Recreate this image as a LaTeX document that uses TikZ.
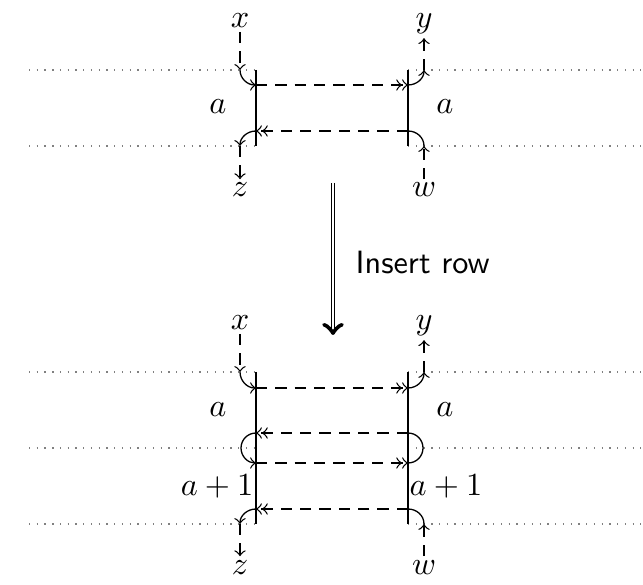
\documentclass[tikz,border=0pt]{standalone}
\begin{document}
\begin{tikzpicture}[x=0.31pt,y=0.31pt,
  lbl/.style={inner sep=1pt,anchor=base},
  wire/.style={dash pattern=on 3.5pt off 2.5pt},
  row/.style={dotted,gray}]
\useasboundingbox (0,0) rectangle (643,584);
% before: one row of height a
\draw[row] (29,514) -- (256,514) (408,514) -- (641,514);
\draw[row] (29,438) -- (256,438) (408,438) -- (641,438);
\draw (256,514) -- (256,438);
\draw (408,514) -- (408,438);
\node[lbl] (x1) at (240,556) {$x$};
\node[lbl] (y1) at (424,556) {$y$};
\node[lbl] (z1) at (240,387) {$z$};
\node[lbl] (w1) at (424,387) {$w$};
\node (a1l) at (218,477) {$a$};
\node (a1r) at (445,477) {$a$};
\coordinate (p1) at (240,514);
\coordinate (q1) at (256,499);
\coordinate (r1) at (408,499);
\coordinate (s1) at (424,514);
\coordinate (t1) at (408,453);
\coordinate (u1) at (256,453);
\coordinate (v1) at (240,438);
\coordinate (o1) at (424,438);
\draw[wire,->] (x1) -- (p1);
\draw[->] (p1) to[out=-90,in=180] (q1);
\draw[wire,->>] (q1) -- (r1);
\draw[->] (r1) to[out=0,in=-90] (s1);
\draw[wire,->] (s1) -- (y1);
\draw[wire,->] (w1) -- (o1);
\draw (o1) to[out=90,in=0] (t1);
\draw[wire,->>] (t1) -- (u1);
\draw[->] (u1) to[out=180,in=90] (v1);
\draw[wire,->] (v1) -- (z1);
% the step
\coordinate (go) at (333,401);
\coordinate (stop) at (333,249);
\draw[double,->] (go) -- (stop);
\node[anchor=west,inner sep=0pt] (ins) at (355,322) {\sffamily Insert row};
% after: rows a and a+1
\draw[row] (29,212) -- (256,212) (408,212) -- (641,212);
\draw[row] (29,136) -- (256,136) (408,136) -- (641,136);
\draw[row] (29,60) -- (256,60) (408,60) -- (641,60);
\draw (256,212) -- (256,60);
\draw (408,212) -- (408,60);
\node[lbl] (x2) at (240,254) {$x$};
\node[lbl] (y2) at (424,254) {$y$};
\node[lbl] (z2) at (240,10) {$z$};
\node[lbl] (w2) at (424,10) {$w$};
\node (a2l) at (218,174) {$a$};
\node (a2r) at (445,174) {$a$};
\node[inner sep=0pt,anchor=east] (b2l) at (254,98) {$a+1$};
\node[inner sep=0pt,anchor=west] (b2r) at (409,98) {$a+1$};
\coordinate (p2) at (240,212);
\coordinate (q2) at (256,196);
\coordinate (r2) at (408,196);
\coordinate (s2) at (424,212);
\coordinate (k2) at (408,121);
\coordinate (l2) at (408,151);
\coordinate (m2) at (256,151);
\coordinate (n2) at (256,121);
\coordinate (t2) at (408,75);
\coordinate (u2) at (256,75);
\coordinate (v2) at (240,60);
\coordinate (o2) at (424,60);
\draw[wire,->] (x2) -- (p2);
\draw[->] (p2) to[out=-90,in=180] (q2);
\draw[wire,->>] (q2) -- (r2);
\draw[->] (r2) to[out=0,in=-90] (s2);
\draw[wire,->] (s2) -- (y2);
\draw (k2) arc[start angle=-90,end angle=90,radius=15];
\draw[wire,->>] (l2) -- (m2);
\draw[->] (m2) arc[start angle=90,end angle=270,radius=15];
\draw[wire,->>] (n2) -- (k2);
\draw[wire,->] (w2) -- (o2);
\draw (o2) to[out=90,in=0] (t2);
\draw[wire,->>] (t2) -- (u2);
\draw[->] (u2) to[out=180,in=90] (v2);
\draw[wire,->] (v2) -- (z2);
\end{tikzpicture}
\end{document}
